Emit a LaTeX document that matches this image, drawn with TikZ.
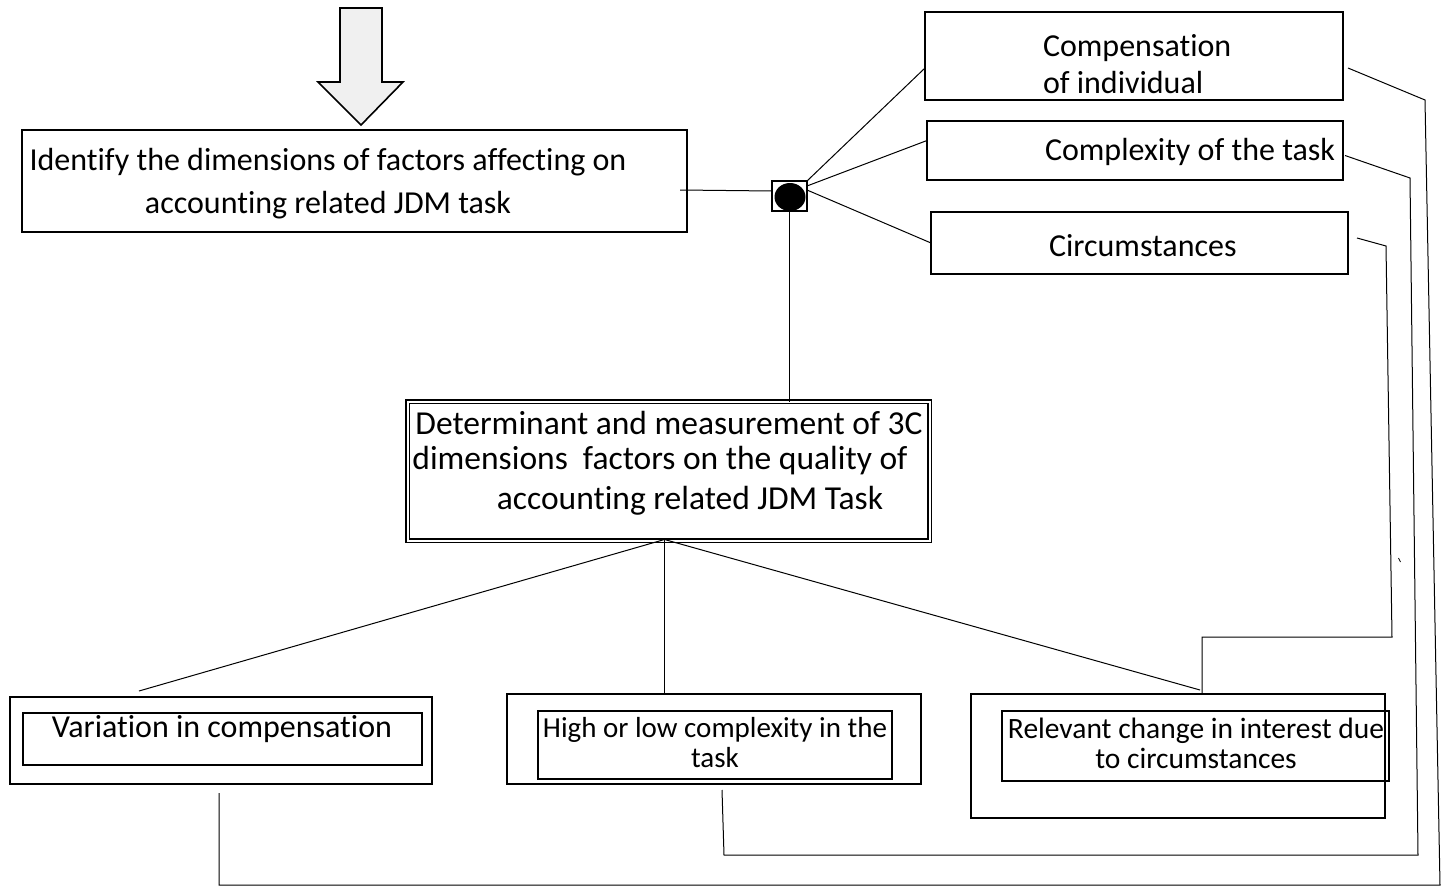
\documentclass[tikz,border=0pt]{standalone}
\usepackage{fontspec}
\setmainfont{Carlito}[Ligatures={NoCommon,NoContextual}]
\begin{document}
\begin{tikzpicture}[x=1pt,y=-1pt,
  box/.style={draw, line width=1.8pt, inner sep=0pt, outer sep=0pt},
  ibox/.style={draw, line width=1.3pt, inner sep=0pt, outer sep=0pt},
  txt/.style={inner sep=0pt, outer sep=0pt, font=\fontsize{32}{40}\selectfont, align=center},
  conn/.style={line width=1pt}]
\useasboundingbox (0,0) rectangle (1449,891);
\fill[white] (0,0) rectangle (1449,891);

% big arrow
\draw[line width=1.6pt, fill=black!6, line join=miter]
  (340,8) -- (382,8) -- (382,82) -- (403,82) -- (361,125) -- (318,82) -- (340,82) -- cycle;

% top-left box
\node[box, minimum width=665pt, minimum height=102pt] (ident) at (354.5,181) {};
\node[txt, font=\fontsize{32}{43}\selectfont] (identT) at (328,184) {Identify the dimensions of factors affecting on\\accounting related JDM task};

% junction
\node[draw, line width=1.5pt, minimum width=35pt, minimum height=30pt, inner sep=0pt, outer sep=0pt] (dot) at (789.5,196) {};
\fill (790,197) ellipse (15.5pt and 14pt);

% right boxes
\node[box, minimum width=418pt, minimum height=88pt] (comp) at (1134,56) {};
\node[txt, align=left, anchor=west, font=\fontsize{32}{37}\selectfont] (compT) at (1043,64) {Compensation\\of individual};
\node[box, minimum width=416pt, minimum height=59pt] (cplx) at (1135,150.5) {};
\node[txt, anchor=west] (cplxT) at (1045,152) {Complexity of the task};
\node[box, minimum width=417pt, minimum height=62pt] (circ) at (1139.5,243) {};
\node[txt, anchor=west] (circT) at (1049,246) {Circumstances};

% determinant box
\node[draw, double, double distance=2pt, line width=1.2pt, minimum width=522pt, minimum height=139pt, inner sep=0pt, outer sep=0pt] (det) at (668.5,471) {};
\node[txt, font=\fontsize{33.5}{39}\selectfont] (detT1) at (669,423) {Determinant and measurement of 3C};
\node[txt, font=\fontsize{33.5}{39}\selectfont] (detT2) at (660,461) {dimensions\ \ factors on the quality of};
\node[txt, font=\fontsize{33.5}{39}\selectfont] (detT3) at (690,501) {accounting related JDM Task};

% bottom boxes
\node[box, minimum width=422pt, minimum height=87pt] (varO) at (221,740.5) {};
\node[ibox, minimum width=399pt, minimum height=52pt] (varI) at (222.5,739) {};
\node[txt] (varT) at (222,729) {Variation in compensation};

\node[box, minimum width=414pt, minimum height=90pt] (hlO) at (714,739) {};
\node[ibox, minimum width=354pt, minimum height=68pt] (hlI) at (715,745) {};
\node[txt, font=\fontsize{29}{30}\selectfont] (hlT) at (715,743) {High or low complexity in the\\task};

\node[box, minimum width=414pt, minimum height=124pt] (relO) at (1178,756) {};
\node[ibox, minimum width=387pt, minimum height=70pt] (relI) at (1195.5,746) {};
\node[txt, font=\fontsize{29.5}{30}\selectfont] (relT) at (1196,743) {Relevant change in interest due\\to circumstances};

% connectors around junction
\draw[conn] ([xshift=-7pt,yshift=-9pt]ident.east) -- ([yshift=5pt]dot.west);
\draw[conn] (dot.north east) -- ([yshift=-12pt]comp.west);
\draw[conn] ([yshift=10pt]dot.east) -- ([yshift=10pt]cplx.west);
\draw[conn] ([yshift=6pt]dot.east) -- (circ.west);
\draw[conn] (dot.south) -- (dot.south |- det.north);

% determinant to bottom boxes
\coordinate (apex) at ([xshift=-4pt,yshift=1pt]det.south);
\coordinate (lEnd) at (139,691);
\coordinate (rEnd) at (1200,690);
\draw[conn] (apex) -- (lEnd);
\draw[conn] (apex) -- (apex |- hlO.north);
\draw[conn] (apex) -- (rEnd);

% right-side loop lines
\coordinate (c1a) at (1425,100);
\coordinate (c1b) at (1440,885);
\coordinate (c1c) at (219,885);
\coordinate (c1d) at (219,793);
\draw[conn] ([xshift=5pt,yshift=-12pt]comp.east) -- (c1a) -- (c1b) -- (c1c) -- (c1d);

\coordinate (c2a) at (1410,178);
\coordinate (c2b) at (1418,855);
\coordinate (c2c) at (724,855);
\coordinate (c2d) at (722,790);
\draw[conn] ([xshift=2pt,yshift=-5pt]cplx.east) -- (c2a) -- (c2b) -- (c2c) -- (c2d);

\coordinate (c3a) at (1386,246);
\coordinate (c3b) at (1392,637);
\coordinate (c3c) at (1202,637);
\draw[conn] ([xshift=9pt,yshift=5pt]circ.east) -- (c3a) -- (c3b) -- (c3c) -- (c3c |- relO.north);

% stray tick
\draw[line width=0.8pt] (1398.5,558) -- (1400.5,562);
\end{tikzpicture}
\end{document}
